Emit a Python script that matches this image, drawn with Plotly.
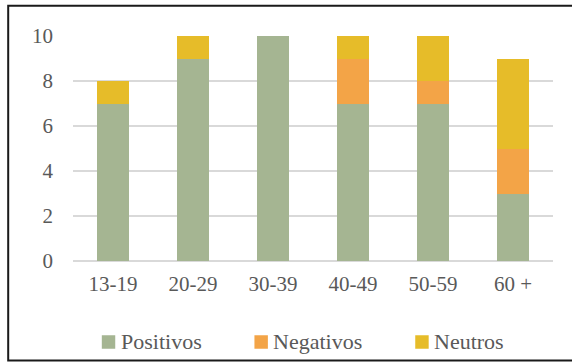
import plotly.graph_objects as go

# Age groups and counts per response type
categories = ["13-19", "20-29", "30-39", "40-49", "50-59", "60 +"]
positivos = [7, 9, 10, 7, 7, 3]
negativos = [0, 0, 0, 2, 1, 2]
neutros = [1, 1, 0, 1, 2, 4]

series_names = ["Positivos", "Negativos", "Neutros"]
series_values = [positivos, negativos, neutros]
series_colors = ["#A5B592", "#F3A447", "#E6BC29"]

y_ticks = [0, 2, 4, 6, 8, 10]

FONT = "'Liberation Serif', 'Times New Roman', serif"
TEXT_COLOR = "#595959"

fig = go.Figure()
for name, vals, color in zip(series_names, series_values, series_colors):
    fig.add_trace(go.Bar(
        x=categories, y=vals, name=name,
        marker=dict(color=color, line=dict(width=0)),
        showlegend=False,
    ))

# Legend drawn as coloured squares with labels below the plot
legend_x = [0.06, 0.378, 0.713]
shapes = []
annotations = []
for lx, name, color in zip(legend_x, series_names, series_colors):
    shapes.append(dict(type="rect", xref="paper", yref="paper",
                       x0=lx, x1=lx + 0.028, y0=-0.39, y1=-0.33,
                       fillcolor=color, line=dict(width=0)))
    annotations.append(dict(xref="paper", yref="paper", x=lx + 0.035, y=-0.358,
                            text=name, showarrow=False, xanchor="left", yanchor="middle",
                            font=dict(family=FONT, size=22, color=TEXT_COLOR)))

# Outer frame around the chart
shapes.append(dict(type="rect", xref="paper", yref="paper",
                   x0=-0.135, x1=1.06, y0=-0.442, y1=1.135,
                   line=dict(color="#1a1a1a", width=2), fillcolor="rgba(0,0,0,0)",
                   layer="below"))

fig.update_layout(
    barmode="stack",
    bargap=0.6,
    width=572, height=362,
    margin=dict(l=73, r=19, t=36, b=101),
    paper_bgcolor="white",
    plot_bgcolor="white",
    font=dict(family=FONT, size=21, color=TEXT_COLOR),
    shapes=shapes,
    annotations=annotations,
    xaxis=dict(showgrid=False, showline=False, ticks="",
               tickfont=dict(family=FONT, size=21, color=TEXT_COLOR),
               ticklabelstandoff=8),
    yaxis=dict(range=[0, 10], tickvals=y_ticks, showgrid=True,
               gridcolor="#D9D9D9", gridwidth=1.5,
               zeroline=True, zerolinecolor="#D9D9D9", zerolinewidth=1.5,
               showline=False, ticks="",
               tickfont=dict(family=FONT, size=21, color=TEXT_COLOR),
               ticklabelstandoff=19),
)

fig.write_html("out.html")
